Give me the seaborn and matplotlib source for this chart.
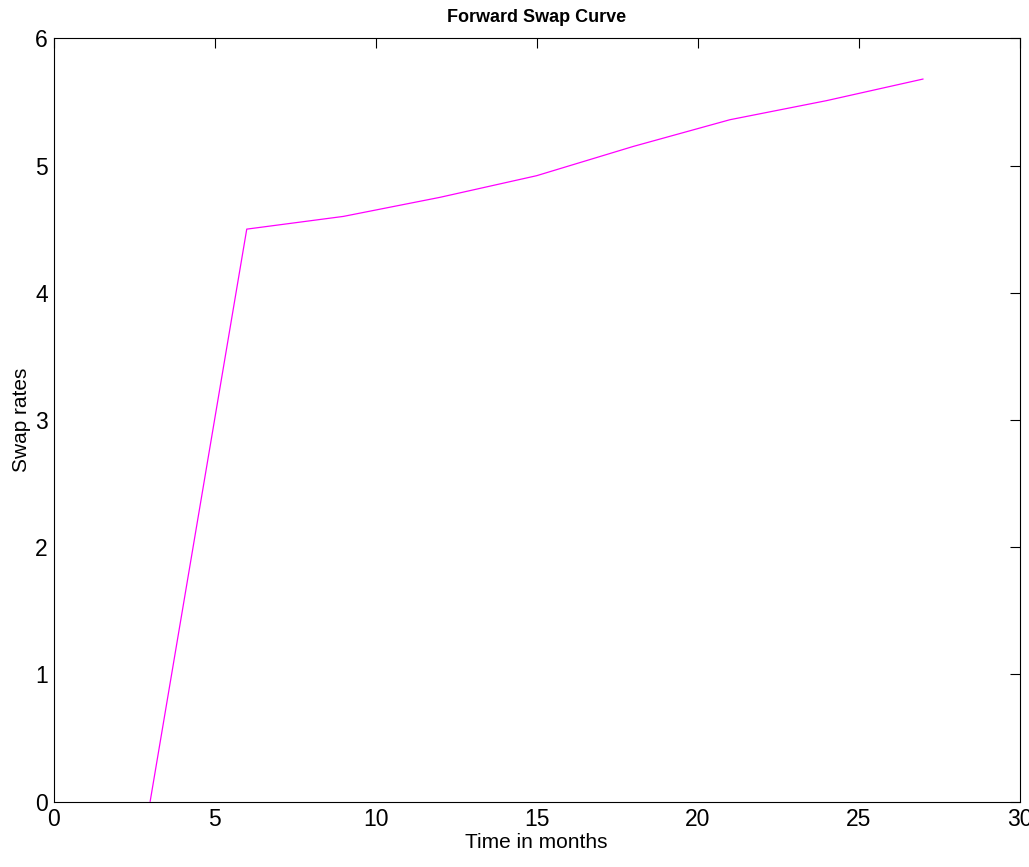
import matplotlib
matplotlib.use("Agg")
import matplotlib.pyplot as plt
import seaborn as sns
import pandas as pd

months = [3, 6, 9, 12, 15, 18, 21, 24, 27]
swap_rates = [0.0, 4.50, 4.60, 4.75, 4.92, 5.15, 5.36, 5.51, 5.68]
x_ticks = [0, 5, 10, 15, 20, 25, 30]
y_ticks = [0, 1, 2, 3, 4, 5, 6]

sns.set_style("white")
plt.rcParams['font.family'] = ['Liberation Sans', 'DejaVu Sans']
plt.rcParams['text.color'] = 'black'
plt.rcParams['axes.labelcolor'] = 'black'

df = pd.DataFrame({"months": months, "rate": swap_rates})

fig = plt.figure(figsize=(10.29, 8.67), dpi=100)
ax = fig.add_axes([0.052, 0.0755, 0.939, 0.8803])
sns.lineplot(data=df, x="months", y="rate", ax=ax, color="#ff00ff", linewidth=0.9)

ax.set_xlim(0, 30)
ax.set_ylim(0, 6)
ax.set_xticks(x_ticks)
ax.set_yticks(y_ticks)
ax.tick_params(direction="in", length=7, width=0.8, top=True, right=True,
               labelsize=16.5, colors="black")
ax.tick_params(axis="x", pad=5)
ax.tick_params(axis="y", pad=4)
for s in ax.spines.values():
    s.set_color("black")
    s.set_linewidth(0.8)
ax.set_xlabel("Time in months", fontsize=15, labelpad=1, color="black")
ax.set_ylabel("Swap rates", fontsize=15, labelpad=3, color="black")
ax.set_title("Forward Swap Curve", fontsize=13, fontweight="bold", pad=12, color="black")

fig.savefig("out.png", dpi=100)
